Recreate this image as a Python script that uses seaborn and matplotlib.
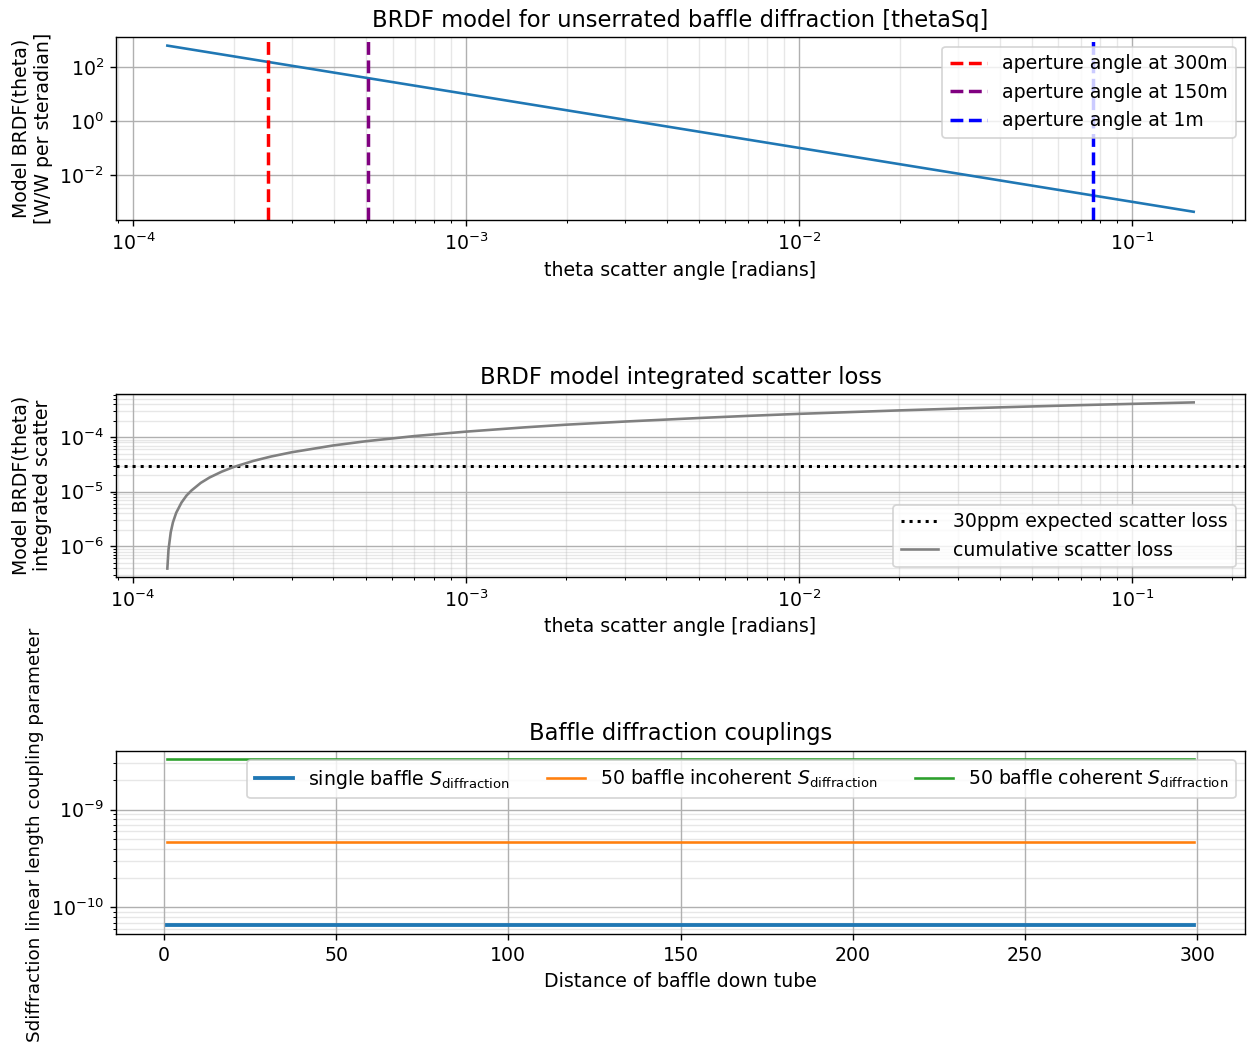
"""Baffle diffraction BRDF model, integrated scatter loss and couplings."""
import numpy as np
import matplotlib
matplotlib.use("Agg")
import matplotlib.pyplot as plt
import seaborn as sns

# --- BRDF model (thetaSq) ---
brdf_theta = [1.264e-4, 1.53e-1]
brdf_value = [6.3e2, 4.27e-4]

aperture_labels = ["aperture angle at 300m", "aperture angle at 150m", "aperture angle at 1m"]
aperture_angles = [2.54e-4, 5.08e-4, 7.62e-2]
aperture_colors = ["red", "purple", "blue"]

# --- cumulative integrated scatter loss ---
scatter_theta = [1.27e-4, 1.28e-4, 1.30e-4, 1.32e-4, 1.35e-4, 1.40e-4, 1.45e-4,
                 1.50e-4, 1.60e-4, 1.70e-4, 1.85e-4, 2.0e-4, 2.3e-4, 2.6e-4,
                 3.0e-4, 4.0e-4, 5.0e-4, 7.0e-4, 1.0e-3, 1.5e-3, 2.0e-3,
                 3.0e-3, 5.0e-3, 7.0e-3, 1.0e-2, 2.0e-2, 3.0e-2, 5.0e-2,
                 7.0e-2, 1.0e-1, 1.53e-1]
scatter_loss = [3.9e-7, 8.6e-7, 1.8e-6, 2.74e-6, 4.1e-6, 6.3e-6, 8.5e-6,
                1.05e-5, 1.45e-5, 1.82e-5, 2.33e-5, 2.81e-5, 3.66e-5, 4.41e-5,
                5.28e-5, 7.04e-5, 8.40e-5, 1.045e-4, 1.26e-4, 1.51e-4, 1.69e-4,
                1.93e-4, 2.24e-4, 2.45e-4, 2.67e-4, 3.09e-4, 3.34e-4, 3.65e-4,
                3.86e-4, 4.07e-4, 4.33e-4]
expected_loss = 3e-5

# --- baffle diffraction couplings ---
baffle_distance = [1, 299]
single_baffle = [6.56e-11, 6.56e-11]
incoherent_50 = [4.64e-10, 4.64e-10]
coherent_50 = [3.28e-9, 3.28e-9]

plt.rcParams["font.size"] = 10.85
plt.rcParams["axes.titlesize"] = 13


def log_grid(ax):
    ax.grid(True, which="major", color="#b0b0b0")
    ax.grid(True, which="minor", color="#b0b0b0", alpha=0.3)


fig, axes = plt.subplots(3, 1, figsize=(1249 / 125, 1057 / 125), dpi=125)
fig.subplots_adjust(left=0.0929, right=0.9968, top=0.9647, bottom=0.1167, hspace=0.952)

# top: BRDF model
ax = axes[0]
sns.lineplot(x=brdf_theta, y=brdf_value, ax=ax, color="C0", lw=1.5, sort=False)
for a, lab, c in zip(aperture_angles, aperture_labels, aperture_colors):
    ax.axvline(a, color=c, ls="--", lw=2, label=lab)
ax.set_xscale("log")
ax.set_yscale("log")
log_grid(ax)
ax.set_title("BRDF model for unserrated baffle diffraction [thetaSq]")
ax.set_xlabel("theta scatter angle [radians]")
ax.set_ylabel("Model BRDF(theta)\n[W/W per steradian]")
ax.legend(loc="upper right")

# middle: integrated scatter loss
ax = axes[1]
ax.axhline(expected_loss, color="black", ls=":", lw=1.75, label="30ppm expected scatter loss")
sns.lineplot(x=scatter_theta, y=scatter_loss, ax=ax, color="gray", lw=1.5,
             sort=False, label="cumulative scatter loss")
ax.set_xscale("log")
ax.set_yscale("log")
log_grid(ax)
ax.set_title("BRDF model integrated scatter loss")
ax.set_xlabel("theta scatter angle [radians]")
ax.set_ylabel("Model BRDF(theta)\nintegrated scatter")
ax.legend(loc="lower right")

# bottom: couplings
ax = axes[2]
sns.lineplot(x=baffle_distance, y=single_baffle, ax=ax, color="C0", lw=2.2,
             label=r"single baffle $S_{\mathrm{diffraction}}$")
sns.lineplot(x=baffle_distance, y=incoherent_50, ax=ax, color="C1", lw=1.5,
             label=r"50 baffle incoherent $S_{\mathrm{diffraction}}$")
sns.lineplot(x=baffle_distance, y=coherent_50, ax=ax, color="C2", lw=1.5,
             label=r"50 baffle coherent $S_{\mathrm{diffraction}}$")
ax.set_yscale("log")
log_grid(ax)
ax.set_title("Baffle diffraction couplings")
ax.set_xlabel("Distance of baffle down tube")
ax.set_ylabel("Sdiffraction linear length coupling parameter", fontsize=10.6)
ax.yaxis.label.set_y(0.54)
ax.legend(loc="upper right", ncol=3)

fig.savefig("out.png", dpi=125)
plt.close(fig)
